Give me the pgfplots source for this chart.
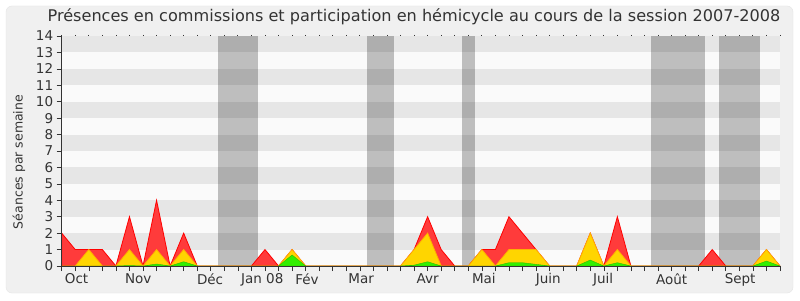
\documentclass[border=0pt]{standalone}
\usepackage{fontspec}
\setmainfont{DejaVu Sans}
\usepackage{pgfplots}
\pgfplotsset{compat=1.18}
\usepackage{pgfplotstable}
\definecolor{bgout}{HTML}{F0F0F0}
\definecolor{plotbg}{HTML}{FAFAFA}
\definecolor{stripe}{HTML}{E6E6E6}
\definecolor{redfill}{HTML}{FF3B3B}
\definecolor{redline}{HTML}{FF0000}
\definecolor{yelfill}{HTML}{FFD500}
\definecolor{yelline}{HTML}{FFB000}
\definecolor{grnfill}{HTML}{33EE00}
\definecolor{txt}{HTML}{333333}
\pgfplotstableread{
w r j v
0 2 0 0
1 1 0 0
2 1 1 0
3 1 0 0
4 0 0 0
5 3 1 0.03
6 0 0 0
7 4 1 0.12
8 0 0 0
9 2 1 0.26
10 0 0 0
11 0 0 0
12 0 0 0
13 0 0 0
14 0 0 0
15 1 0 0
16 0 0 0
17 1 1 0.67
18 0 0 0
19 0 0 0
20 0 0 0
21 0 0 0
22 0 0 0
23 0 0 0
24 0 0 0
25 0 0 0
26 1 1 0.05
27 3 2 0.26
28 1 0 0
29 0 0 0
30 0 0 0
31 1 1 0
32 1 0 0
33 3 1 0.2
34 2 1 0.2
35 1 1 0.1
36 0 0 0
37 0 0 0
38 0 0 0
39 2 2 0.36
40 0 0 0
41 3 1 0.2
42 0 0 0
43 0 0 0
44 0 0 0
45 0 0 0
46 0 0 0
47 0 0 0
48 1 0 0
49 0 0 0
50 0 0 0
51 0 0 0
52 1 1 0.3
53 0 0 0
}\data
\begin{document}
\begin{tikzpicture}
\fill[white] (0pt,0pt) rectangle (800pt,300pt);
\draw[fill=bgout, draw=black!10, rounded corners=6pt] (6pt,7pt) rectangle (793pt,294pt);
\begin{axis}[
  at={(61.7pt,34pt)}, anchor=origin, scale only axis,
  width=718.3pt, height=230pt,
  xmin=0, xmax=53, ymin=0, ymax=14,
  axis x line*=bottom, axis y line*=left,
  axis line style={draw=txt, line width=0.8pt, -},
  xtick={0,...,53}, xticklabels={},
  extra x ticks={1.1,5.65,10.95,14.8,18.1,22.1,27.0,31.15,35.9,39.95,45.0,50.06},
  extra x tick labels={Oct,Nov,Déc,Jan 08,Fév,Mar,Avr,Mai,Juin,Juil,Août,Sept},
  extra x tick style={major tick length=0pt, tick label style={yshift=-4pt}},
  ytick={0,...,14},
  tick align=outside, major tick length=5pt,
  tick style={txt, line width=0.6pt},
  ticklabel style={font=\fontsize{13.5}{14}\selectfont, text=txt},
  /pgf/number format/assume math mode=true,
  axis background/.style={fill=plotbg},
  axis on top,
]
\pgfplotsinvokeforeach{1,3,5,7,9,11,13}{
  \fill[stripe] (axis cs:0,#1) rectangle (axis cs:53,#1+1);
}
\fill[black, opacity=0.24] (axis cs:11.5,0) rectangle (axis cs:14.5,14);
\fill[black, opacity=0.24] (axis cs:22.5,0) rectangle (axis cs:24.5,14);
\fill[black, opacity=0.24] (axis cs:29.5,0) rectangle (axis cs:30.5,14);
\fill[black, opacity=0.24] (axis cs:43.5,0) rectangle (axis cs:47.5,14);
\fill[black, opacity=0.24] (axis cs:48.5,0) rectangle (axis cs:51.5,14);
\addplot[fill=redfill, draw=redline, line width=0.8pt] table[x=w,y=r]{\data} \closedcycle;
\addplot[fill=yelfill, draw=yelline, line width=0.8pt] table[x=w,y=j]{\data} \closedcycle;
\addplot[fill=grnfill, draw=grnfill!80!black, line width=0.4pt] table[x=w,y=v]{\data} \closedcycle;
\end{axis}
\begin{axis}[
  at={(61.7pt,34pt)}, anchor=origin, scale only axis,
  width=718.3pt, height=230pt,
  xmin=0, xmax=53, ymin=0, ymax=14,
  axis x line*=top, axis y line=none,
  axis line style={draw=none},
  xtick={0,...,53}, xticklabels={},
  tick align=outside, major tick length=1.2pt,
  tick style={txt, line width=0.8pt},
]
\end{axis}
\node[font=\fontsize{16.1}{18}\selectfont, text=txt] at (414pt,283pt) {Présences en commissions et participation en hémicycle au cours de la session 2007-2008};
\node[rotate=90, font=\fontsize{12.5}{15}\selectfont, text=txt] at (19pt,138pt) {Séances par semaine};
\pgfresetboundingbox
\path (0pt,0pt) rectangle (800pt,300pt);
\end{tikzpicture}
\end{document}
